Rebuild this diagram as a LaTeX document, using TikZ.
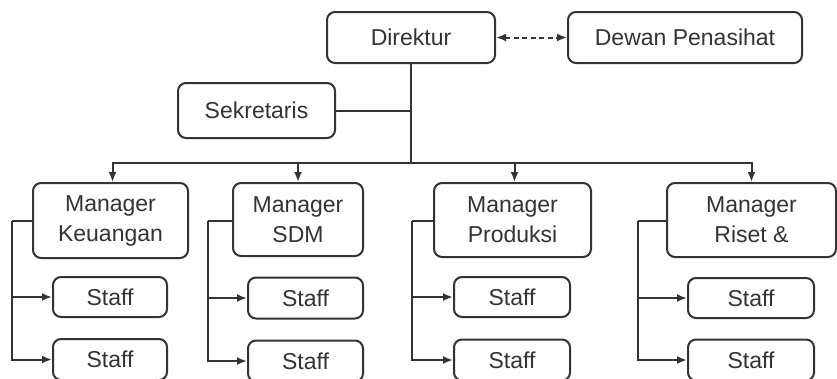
\documentclass[tikz,border=0pt]{standalone}
\usepackage{fontspec}
\newfontfamily\arialf{Liberation Sans}
\usetikzlibrary{arrows.meta}
\definecolor{ln}{HTML}{333333}
\definecolor{tx}{HTML}{333333}
\tikzset{
  box/.style={draw=ln, line width=2pt, rounded corners=8pt, fill=white, text=tx,
    font=\arialf\fontsize{23}{30}\selectfont, align=center, inner sep=0pt},
  conn/.style={draw=ln, line width=2pt},
  arr/.style={conn, -{Latex[length=10pt,width=8pt]}},
  darr/.style={conn, {Latex[length=10pt,width=8pt]}-{Latex[length=10pt,width=8pt]}, dash pattern=on 5pt off 3.5pt},
}
\begin{document}
\begin{tikzpicture}[x=1pt,y=-1pt]
\useasboundingbox (0,0) rectangle (837,378);
\fill[white] (0,0) rectangle (837,378);
\clip (0,0) rectangle (837,378);
% top
\node[box, minimum width=168pt, minimum height=51pt] (dir) at (411,37.5) {Direktur};
\node[box, minimum width=234pt, minimum height=51pt] (dew) at (685,37.5) {Dewan Penasihat};
\node[box, minimum width=157pt, minimum height=55pt] (sek) at (256.5,110.5) {Sekretaris};
% managers
\node[box, minimum width=155pt, minimum height=75pt] (mk) at (110.5,220.5) {Manager\\Keuangan};
\node[box, minimum width=130pt, minimum height=73pt] (ms) at (298,219.5) {Manager\\SDM};
\node[box, minimum width=157pt, minimum height=74pt] (mp) at (512.5,220) {Manager\\Produksi};
\node[box, minimum width=169pt, minimum height=74pt] (mr) at (751.5,220) {Manager\\Riset \&};
% staff
\node[box, minimum width=114pt, minimum height=40pt] (ks1) at (110,297) {Staff};
\node[box, minimum width=114pt, minimum height=41pt] (ks2) at (110,359.5) {Staff};
\node[box, minimum width=115pt, minimum height=41pt] (ss1) at (305.5,298) {Staff};
\node[box, minimum width=115pt, minimum height=41pt] (ss2) at (305.5,361) {Staff};
\node[box, minimum width=116pt, minimum height=40pt] (ps1) at (512,297) {Staff};
\node[box, minimum width=116pt, minimum height=41pt] (ps2) at (512,360) {Staff};
\node[box, minimum width=126pt, minimum height=40pt] (rs1) at (751,298) {Staff};
\node[box, minimum width=126pt, minimum height=41pt] (rs2) at (751,360) {Staff};
% coordinates
\coordinate (bar) at (411,163);
\coordinate (kl) at (12,221);
\coordinate (sl) at (208,221);
\coordinate (pl) at (412,221);
\coordinate (rl) at (638,221);
% connectors top
\draw[darr] (dir.east) -- (dew.west);
\draw[conn] (dir.south) -- (bar);
\draw[conn] (sek.east) -- (sek.east -| bar);
\draw[arr] (bar) -| ([xshift=2pt]mk.north);
\draw[arr] (bar) -| (ms.north);
\draw[arr] (bar) -| ([xshift=2pt]mp.north);
\draw[arr] (bar) -| (mr.north);
% staff connectors
\draw[conn] (mk.west |- kl) -- (kl);
\draw[arr] (kl) |- (ks2.west);
\draw[arr] (kl |- ks1.west) -- (ks1.west);
\draw[conn] (ms.west |- sl) -- (sl);
\draw[arr] (sl) |- (ss2.west);
\draw[arr] (sl |- ss1.west) -- (ss1.west);
\draw[conn] (mp.west |- pl) -- (pl);
\draw[arr] (pl) |- (ps2.west);
\draw[arr] (pl |- ps1.west) -- (ps1.west);
\draw[conn] (mr.west |- rl) -- (rl);
\draw[arr] (rl) |- (rs2.west);
\draw[arr] (rl |- rs1.west) -- (rs1.west);
\end{tikzpicture}
\end{document}
